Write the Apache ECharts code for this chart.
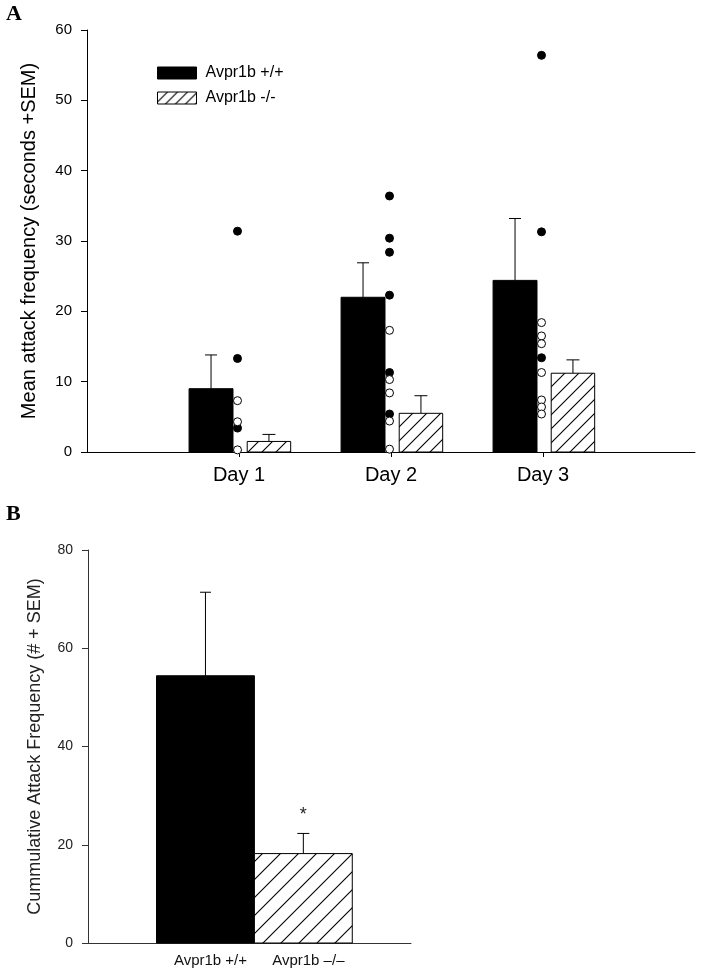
<!DOCTYPE html>
<html><head><meta charset="utf-8">
<script src="https://cdn.jsdelivr.net/npm/echarts@6/dist/echarts.min.js"></script>
<style>html,body{margin:0;padding:0;background:#fff}#c{width:701px;height:972px}</style>
</head><body><div id="c"></div>
<script>
// ---- Panel A data ----
const days = ['Day 1', 'Day 2', 'Day 3'];
const wtMean = [9.0, 22.0, 24.4];
const wtSem = [4.8, 4.9, 8.8];
const koMean = [1.5, 5.5, 11.2];
const koSem = [1.0, 2.5, 1.9];
const wtDotsDay1 = [31.4, 13.3, 3.4];
const wtDotsDay2 = [36.4, 30.4, 28.4, 22.3, 11.3, 5.4];
const wtDotsDay3 = [56.4, 31.3, 13.4];
const koDotsDay1 = [7.3, 4.3, 0.3];
const koDotsDay2 = [17.3, 10.3, 8.4, 4.4, 0.4];
const koDotsDay3 = [18.4, 16.5, 15.4, 11.3, 7.4, 6.4, 5.4];
const yTicksA = [0, 10, 20, 30, 40, 50, 60];
// ---- Panel B data ----
const groups = ['Avpr1b +/+', 'Avpr1b \u2013/\u2013'];
const cumMean = [54.4, 18.2];
const cumSem = [17.0, 4.1];
const cumSig = ['', '*'];
const yTicksB = [0, 20, 40, 60, 80];

const WT = 'Avpr1b +/+', KO = 'Avpr1b -/-';
const FONT = '"Liberation Sans", Arial, sans-serif';

function hatch(s) {
  const c = document.createElement('canvas');
  c.width = s; c.height = s;
  const g = c.getContext('2d');
  g.fillStyle = '#fff'; g.fillRect(0, 0, s, s);
  g.strokeStyle = '#000'; g.lineWidth = 1.1;
  g.beginPath();
  g.moveTo(0, s); g.lineTo(s, 0);
  g.moveTo(-2, 2); g.lineTo(2, -2);
  g.moveTo(s - 2, s + 2); g.lineTo(s + 2, s - 2);
  g.stroke();
  return { type: 'pattern', image: c, repeat: 'repeat' };
}
const hatchA = hatch(14), hatchLeg = hatch(10), hatchB = hatch(18);

function barRenderer(offset, widthU, fill, cap, sigArr) {
  return function (params, api) {
    const x = api.value(0) + offset, v = api.value(1), sem = api.value(2);
    const p0 = api.coord([x, 0]);
    const p1 = api.coord([x, v]);
    const pe = api.coord([x, v + sem]);
    const w = api.size([widthU, 0])[0];
    const children = [
      { type: 'line', shape: { x1: p1[0], y1: p1[1], x2: pe[0], y2: pe[1] }, style: { stroke: '#000', lineWidth: 1 } },
      { type: 'line', shape: { x1: pe[0] - cap / 2, y1: pe[1], x2: pe[0] + cap / 2, y2: pe[1] }, style: { stroke: '#000', lineWidth: 1 } },
      { type: 'rect', shape: { x: p0[0] - w / 2, y: p1[1], width: w, height: p0[1] - p1[1] },
        style: { fill: fill, stroke: '#000', lineWidth: 1 } }
    ];
    if (sigArr && sigArr[params.dataIndex]) {
      children.push({ type: 'text', x: pe[0], y: pe[1] - 18,
        style: { text: sigArr[params.dataIndex], font: '18px ' + FONT, fill: '#222', align: 'center', verticalAlign: 'middle' } });
    }
    return { type: 'group', children: children };
  };
}

function dots(arrs) {
  const out = [];
  arrs.forEach((a, i) => a.forEach(v => out.push([i + 1, v])));
  return out;
}

const chart = echarts.init(document.getElementById('c'), null, { renderer: 'canvas' });
chart.setOption({
  animation: false,
  backgroundColor: '#fff',
  textStyle: { fontFamily: FONT },
  graphic: [
    { type: 'text', left: 6, top: 3, style: { text: 'A', font: 'bold 22px "Liberation Serif", "Times New Roman", serif', fill: '#000' } },
    { type: 'text', left: 6, top: 503, style: { text: 'B', font: 'bold 22px "Liberation Serif", "Times New Roman", serif', fill: '#000' } }
  ],
  legend: {
    orient: 'vertical', left: 152, top: 60, itemWidth: 39, itemHeight: 12, itemGap: 9,
    textStyle: { fontSize: 16, color: '#000', fontFamily: FONT, padding: [0, 0, 0, 4] },
    selectedMode: false,
    data: [
      { name: WT, icon: 'rect', itemStyle: { color: '#000', borderColor: '#000', borderWidth: 1 } },
      { name: KO, icon: 'rect', itemStyle: { color: hatchLeg, borderColor: '#000', borderWidth: 1 } }
    ]
  },
  grid: [
    { left: 87, right: 6, top: 30, bottom: 520 },
    { left: 88, right: 290, top: 550, bottom: 29 }
  ],
  xAxis: [
    { gridIndex: 0, type: 'value', min: 0, max: 4, splitLine: { show: false },
      axisLine: { onZero: false, lineStyle: { color: '#000', width: 1 } },
      axisTick: { show: true, length: 5, lineStyle: { color: '#000' }, customValues: [1, 2, 3] },
      axisLabel: { customValues: [1, 2, 3], formatter: v => days[Math.round(v) - 1], fontSize: 20, color: '#000', margin: 13 } },
    { gridIndex: 1, type: 'value', min: -0.2, max: 3.1, splitLine: { show: false },
      axisLine: { onZero: false, lineStyle: { color: '#333', width: 1 } },
      axisTick: { show: false },
      axisLabel: { customValues: [1, 2], formatter: v => groups[Math.round(v) - 1], fontSize: 15, color: '#111', margin: 10, padding: [0, 0, 0, 10] } }
  ],
  yAxis: [
    { gridIndex: 0, type: 'value', min: 0, max: 60, interval: 10, splitLine: { show: false },
      name: 'Mean attack frequency (seconds +SEM)', nameLocation: 'middle', nameGap: 48,
      nameTextStyle: { fontSize: 20, color: '#000' },
      axisLine: { show: true, onZero: false, lineStyle: { color: '#000', width: 1 } },
      axisTick: { show: true, length: 6, lineStyle: { color: '#000' } },
      axisLabel: { fontSize: 15, color: '#000', margin: 15, formatter: v => String(yTicksA[yTicksA.indexOf(v)]) } },
    { gridIndex: 1, type: 'value', min: 0, max: 80, interval: 20, splitLine: { show: false },
      name: 'Cummulative Attack Frequency (# + SEM)', nameLocation: 'middle', nameGap: 44,
      nameTextStyle: { fontSize: 18, color: '#222' },
      axisLine: { show: true, onZero: false, lineStyle: { color: '#333', width: 1 } },
      axisTick: { show: true, length: 6, lineStyle: { color: '#333' } },
      axisLabel: { fontSize: 14, color: '#222', margin: 15, formatter: v => String(yTicksB[yTicksB.indexOf(v)]) } }
  ],
  series: [
    { name: WT, type: 'custom', xAxisIndex: 0, yAxisIndex: 0, itemStyle: { color: '#000' },
      renderItem: barRenderer(-0.184, 0.289, '#000', 12),
      data: wtMean.map((v, i) => [i + 1, v, wtSem[i]]), z: 2 },
    { name: KO, type: 'custom', xAxisIndex: 0, yAxisIndex: 0, itemStyle: { color: hatchLeg },
      renderItem: barRenderer(0.197, 0.286, hatchA, 13),
      data: koMean.map((v, i) => [i + 1, v, koSem[i]]), z: 2 },
    { name: 'wt dots', type: 'scatter', xAxisIndex: 0, yAxisIndex: 0, symbol: 'circle', symbolSize: 8,
      symbolOffset: [-1.5, 0], itemStyle: { color: '#000', borderColor: '#000', borderWidth: 1, opacity: 1 },
      data: dots([wtDotsDay1, wtDotsDay2, wtDotsDay3]), z: 5 },
    { name: 'ko dots', type: 'scatter', xAxisIndex: 0, yAxisIndex: 0, symbol: 'circle', symbolSize: 8,
      symbolOffset: [-1.5, 0], itemStyle: { color: '#fff', borderColor: '#000', borderWidth: 1, opacity: 1 },
      data: dots([koDotsDay1, koDotsDay2, koDotsDay3]), z: 5 },
    { name: 'cum wt', type: 'custom', xAxisIndex: 1, yAxisIndex: 1,
      renderItem: barRenderer(0, 1.0, '#000', 11),
      data: [[1, cumMean[0], cumSem[0]]], z: 2 },
    { name: 'cum ko', type: 'custom', xAxisIndex: 1, yAxisIndex: 1,
      renderItem: barRenderer(0, 1.0, hatchB, 12, [cumSig[1]]),
      data: [[2, cumMean[1], cumSem[1]]], z: 2 }
  ]
});
</script>
</body></html>
